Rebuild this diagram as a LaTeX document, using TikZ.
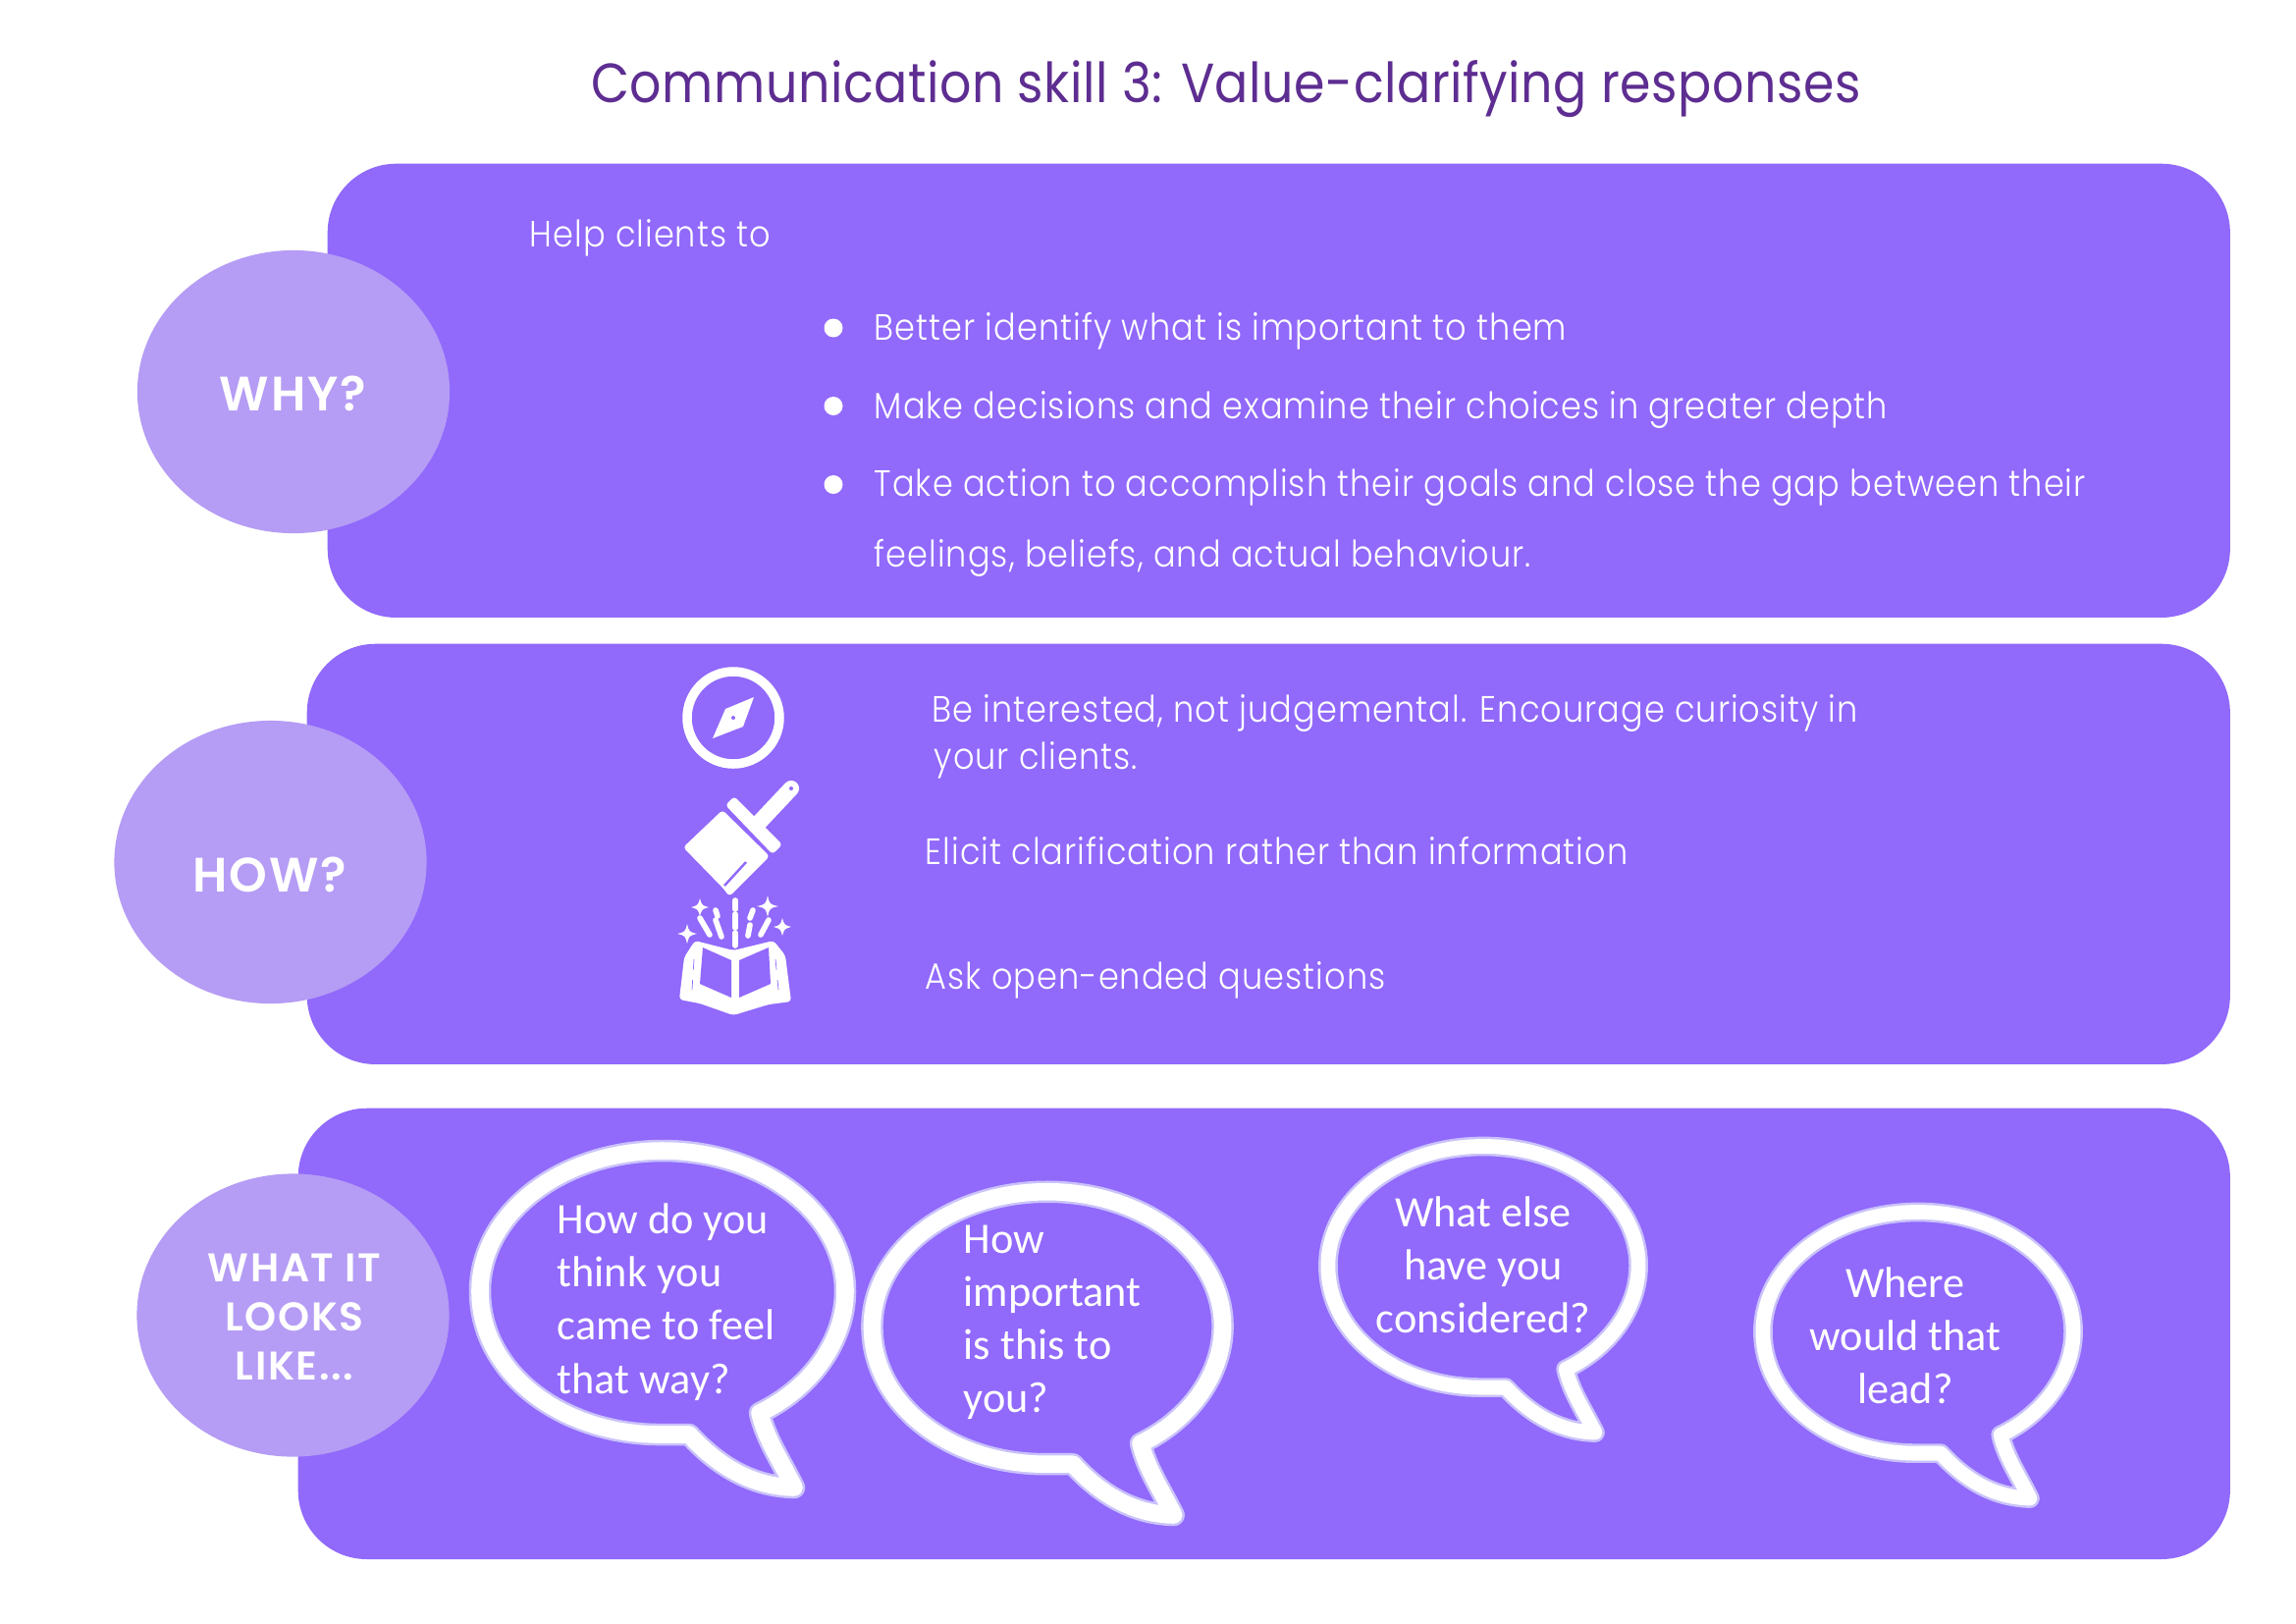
\documentclass[tikz,border=0pt]{standalone}
\usepackage{fontspec}
\usetikzlibrary{shapes.geometric}
\setmainfont{Poppins Light}[FakeStretch=0.9,LetterSpace=2.8]
\newfontfamily\titlefont{Poppins}[FakeStretch=0.9,LetterSpace=1]
\newfontfamily\bubblefont{Carlito}
\newfontfamily\labelfont{Poppins SemiBold}[LetterSpace=4]
\definecolor{panelfill}{HTML}{9169FB}
\definecolor{ovalfill}{HTML}{B59CF5}
\definecolor{titleink}{HTML}{5E2D91}
\definecolor{haloink}{HTML}{C9C2FB}
\tikzset{
    x=0.01cm,y=-0.01cm,
    panel/.style={fill=panelfill,rounded corners=0.7cm,anchor=north west},
    oval/.style={ellipse,fill=ovalfill,inner sep=0pt,minimum width=3.18cm,minimum height=2.88cm},
    ovaltext/.style={text=white,inner sep=0pt,align=center,font=\labelfont\fontsize{14}{14.2}\selectfont},
    body/.style={text=white,anchor=base west,inner sep=0pt,font=\fontsize{10.6}{13}\selectfont},
    dotmark/.style={circle,fill=white,inner sep=0pt,minimum size=0.19cm},
    talk/.style={text=white,inner sep=0pt,font=\bubblefont\fontsize{12.6}{15.4}\selectfont},
    pics/bubble/.style={code={
        \draw[white,line join=round,preaction={draw=haloink,line join=round,line width=\pgflinewidth+0.7pt}] (99,124) .. controls (153,98) and (186,49) .. (186,0)
            .. controls (186,-79) and (103,-143) .. (0,-143)
            .. controls (-103,-143) and (-186,-79) .. (-186,0)
            .. controls (-186,82) and (-105,145) .. (-5,146) -- (27,146)
            .. controls (60,182) and (95,199) .. (134,200)
            .. controls (120,172) and (105,150) .. cycle;
    }}
}
\begin{document}
\begin{tikzpicture}
    \useasboundingbox[fill=white] (0,0) rectangle (2339,1653);
    \node[text=titleink,font=\titlefont\fontsize{16}{18}\selectfont] (title) at (1249,91) {Communication skill 3: Value-clarifying responses};

    \node[panel,minimum width=19.37cm,minimum height=4.62cm] (whypanel) at (333,166) {};
    \node[panel,minimum width=19.58cm,minimum height=4.28cm] (howpanel) at (312,655) {};
    \node[panel,minimum width=19.67cm,minimum height=4.59cm] (lookspanel) at (303,1128) {};
    \node[oval] (why) at (299,399) {};
    \node[oval] (how) at (275.5,878) {};
    \node[oval] (looks) at (298.5,1339.5) {};
    \node[ovaltext] (whylabel) at (298.5,400.5) {WHY?};
    \node[ovaltext] (howlabel) at (275,891) {HOW?};
    \node[ovaltext,font=\labelfont\fontsize{11.6}{14.2}\selectfont] (lookslabel) at (300,1341) {WHAT IT\\LOOKS\\LIKE...};

    % why panel
    \node[body] (helptext) at (539,251.5) {Help clients to};
    \node[dotmark] (dota) at (849,334) {};
    \node[dotmark] (dotb) at (849,413.5) {};
    \node[dotmark] (dotc) at (849,493.5) {};
    \node[body] (linea) at (890,346) {Better identify what is important to them};
    \node[body] (lineb) at (890,426.5) {Make decisions and examine their choices in greater depth};
    \node[body] (linec) at (890,505) {Take action to accomplish their goals and close the gap between their};
    \node[body] (lined) at (890,577) {feelings, beliefs, and actual behaviour.};

    % how panel
    \node[body] (howa) at (949,735.5) {Be interested, not judgemental. Encourage curiosity in};
    \node[body] (howb) at (951,783.5) {your clients.};
    \node[body] (howc) at (942,880.5) {Elicit clarification rather than information};
    \node[body] (howd) at (942,1007) {Ask open-ended questions};

    % compass
    \draw[white,line width=2.7pt] (747,731) circle (47);
    \fill[white] (768,710) -- (739,722) -- (726,752) -- (757,740) -- cycle;
    \fill[panelfill] (747,731) circle (2);

    % brush
    \draw[white,line width=4.6pt,line cap=round] (806,803) -- (773,838);
    \fill[panelfill] (806,803) circle (2);
    \fill[white,rounded corners=1pt] (739,820) -- (748,811) -- (797,860) -- (787,870) -- cycle;
    \fill[white,rounded corners=1pt] (736,825) -- (784,872) -- (743,913) -- (737,905) -- (696,863) -- cycle;
    \draw[panelfill,line width=0.7pt] (760,878) -- (738,902);

    % book
    \fill[white,rounded corners=1pt] (692,1018) -- (697,975) -- (708,958) -- (747,968) -- (788,958) -- (800,973) -- (806,1020) -- (783,1023) -- (747,1034) -- (713,1022) -- cycle;
    \fill[panelfill] (716,965) -- (745,978) -- (745,1016) -- (713,1002) -- cycle;
    \fill[panelfill] (753,978) -- (783,965) -- (785,1002) -- (753,1016) -- cycle;
    \draw[panelfill,line width=0.2pt,dashed] (707,977) -- (705,1008);
    \draw[panelfill,line width=0.2pt,dashed] (790,977) -- (793,1008);
    \foreach \sx/\sy/\sr in {713/924/9,700/951/10,782/923/11,797/944/9}{
        \fill[white] (\sx-\sr,\sy) .. controls (\sx-2,\sy-2) .. (\sx,\sy-\sr) .. controls (\sx+2,\sy-2) .. (\sx+\sr,\sy) .. controls (\sx+2,\sy+2) .. (\sx,\sy+\sr) .. controls (\sx-2,\sy+2) .. cycle;
    }
    \foreach \ax/\ay/\bx/\by in {713/935/723/952,729/937/735/954,729/927/731/933,767/927/764/935,764/942/762/953,783/937/775/952,749/917/749/926,749/931/749/945,749/950/749/963}{
        \draw[white,line width=1.6pt,line cap=round] (\ax,\ay) -- (\bx,\by);
    }

    % bubbles
    \pic[line width=5pt] at (675,1315) {bubble};
    \pic[scale=0.96,line width=5pt] at (1067,1351) {bubble};
    \pic[scale=0.85,line width=4.2pt] at (1511,1289) {bubble};
    \pic[scale=0.85,line width=4.2pt] at (1954,1356) {bubble};
    \node[talk,align=left,anchor=west] (talka) at (567,1326) {How do you\\think you\\came to feel\\that way?};
    \node[talk,align=left,anchor=west] (talkb) at (981,1347) {How\\important\\is this to\\you?};
    \node[talk,align=center] (talkc) at (1511,1288) {What else\\have you\\considered?};
    \node[talk,align=center] (talkd) at (1941,1360) {Where\\would that\\lead?};
\end{tikzpicture}
\end{document}
